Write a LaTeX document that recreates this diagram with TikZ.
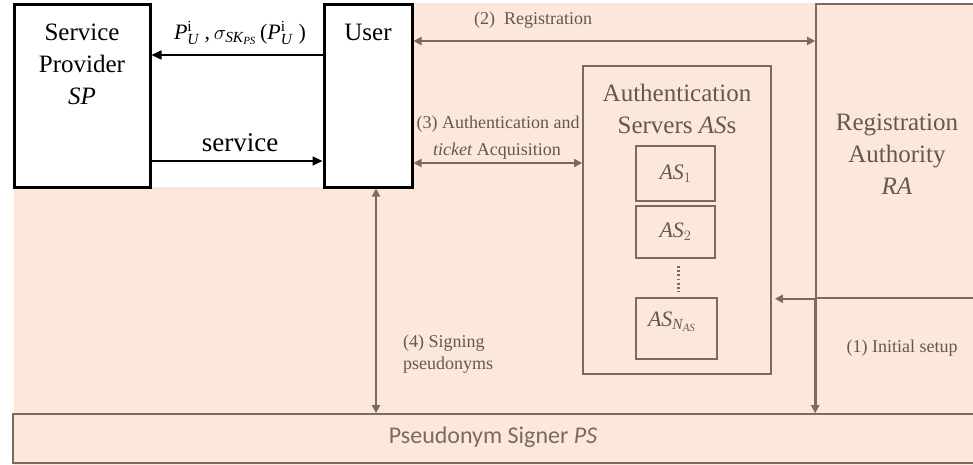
\documentclass[tikz,border=0pt]{standalone}
\usepackage{fontspec}
\setmainfont{Liberation Serif}
\newfontfamily\calib{Carlito}
\usetikzlibrary{arrows.meta}

\definecolor{peach}{HTML}{FBE8DA}
\definecolor{umber}{HTML}{7B6A5D}
\definecolor{inkbrown}{HTML}{66574D}

\tikzset{
  actor/.style={draw=black, line width=3pt, fill=white, inner sep=0pt},
  party/.style={draw=umber, line width=1.6pt, inner sep=0pt},
  server/.style={draw=umber, line width=1.8pt, inner sep=0pt, minimum width=79pt},
  bigtext/.style={font=\fontsize{25}{32}\selectfont, align=center, inner sep=0pt},
  softtext/.style={bigtext, text=inkbrown},
  servertext/.style={font=\fontsize{22}{26}\selectfont, text=inkbrown, inner sep=0pt},
  steplabel/.style={font=\fontsize{18}{22}\selectfont, text=inkbrown, inner sep=0pt},
  blackflow/.style={draw=black, line width=1.6pt, -{Triangle[length=10pt,width=9pt]}},
  flow/.style={draw=umber, line width=2.6pt,
    {Triangle[length=8pt,width=8pt]}-{Triangle[length=8pt,width=8pt]}},
  oneway/.style={draw=umber, line width=2.6pt, -{Triangle[length=8pt,width=8pt]}}
}

\begin{document}
\begin{tikzpicture}[x=1pt,y=-1pt]
\useasboundingbox (0,0) rectangle (973,465);
\clip (0,0) rectangle (973,465);

% shaded back plane, open above the service provider and the user
\fill[peach] (14,3) rectangle (973,465);
\fill[white] (0,0) rectangle (412,187);

% service provider and user
\node[actor, minimum width=136pt, minimum height=182pt] (sp) at (82,96) {};
\node[bigtext] (sptxt) at (82,64) {Service\\Provider\\\textit{SP}};
\node[actor, minimum width=88pt, minimum height=182pt] (user) at (368,96) {};
\node[bigtext] (usertxt) at (368,32) {User};

% registration authority
\node[party, minimum width=180pt, minimum height=294pt] (ra) at (906,151) {};
\node[softtext] (ratxt) at (897,154) {Registration\\Authority\\\textit{RA}};

% authentication servers
\node[party, line width=1.8pt, minimum width=188pt, minimum height=308pt] (asbox) at (677,220) {};
\node[softtext] (astxt) at (677,109) {Authentication\\Servers \textit{AS}s};
\node[server, minimum height=55pt] (as1) at (675.5,173.5) {};
\node[servertext] (as1txt) at (as1) {$\mathit{AS}_1$};
\node[server, minimum height=52pt] (as2) at (675.5,232) {};
\node[servertext] (as2txt) at (as2) {$\mathit{AS}_2$};
\node[server, minimum width=81pt, minimum height=61pt] (asn) at (676.5,328.5) {};
\node[servertext] (asntxt) at (672,322) {$\mathit{AS}_{\mathit{N}_{\mathit{AS}}}$};
\draw[umber, line width=2.2pt, dash pattern=on 1.8pt off 2.4pt, shorten <=7pt, shorten >=5pt]
  ([xshift=3pt]as2.south) -- ([xshift=2pt]asn.north);

% pseudonym signer
\node[party, minimum width=962pt, minimum height=49pt] (ps) at (494,438.5) {};
\node[font=\calib\fontsize{24}{28}\selectfont, text=umber] (pstxt) at (493,437)
  {Pseudonym Signer \textit{PS}};

% user <-> service provider
\draw[blackflow] (user.west |- 0,55) -- (sp.east |- 0,55);
\node[font=\fontsize{22}{26}\selectfont, inner sep=0pt] (sig) at (240,33)
  {$\mathit{P}_{\mathit{U}}^{\mathrm{i}}$ ,\,$\sigma_{\mathit{SK}_{\mathit{PS}}}$\,($\mathit{P}_{\mathit{U}}^{\mathrm{i}}$\;)};
\draw[blackflow] (sp.east |- 0,161) -- (user.west |- 0,161);
\node[font=\fontsize{27}{30}\selectfont, inner sep=0pt] (svc) at (240,143) {service};

% (2) registration
\draw[flow] (user.east |- 0,41) -- (ra.west |- 0,41);
\node[steplabel] (reg) at (533,20) {(2)\ \ Registration};

% (3) authentication and ticket acquisition
\draw[flow] (user.east |- 0,163) -- (asbox.west |- 0,163);
\node[steplabel] (auth1) at (498,124) {(3) Authentication and};
\node[steplabel] (auth2) at (497,151) {\textit{ticket} Acquisition};

% (4) signing pseudonyms
\draw[flow] (user.south -| 376,0) -- (ps.north -| 376,0);
\node[steplabel, align=left, anchor=west] (sign) at (403,354) {(4) Signing\\pseudonyms};

% (1) initial setup
\coordinate (setup) at (ra.south west);
\draw[oneway] (setup) -- ([xshift=3pt]asbox.east |- setup);
\draw[oneway] (setup) -- (setup |- ps.north);
\node[steplabel] (init) at (902,348) {(1) Initial setup};
\end{tikzpicture}
\end{document}
